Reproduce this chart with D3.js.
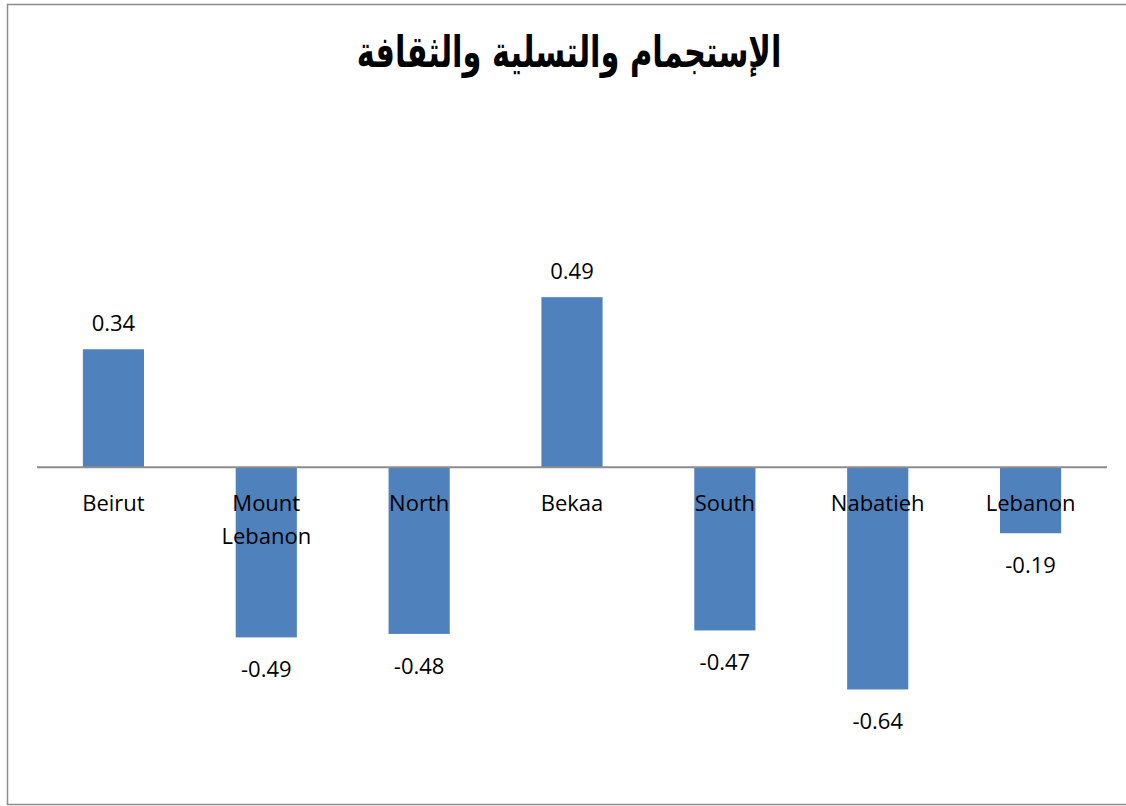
<!DOCTYPE html>
<html>
<head>
<meta charset="utf-8">
<script src="https://cdn.jsdelivr.net/npm/d3@7"></script>
<style>
body { margin: 0; background: #fff; }
text { font-family: "Open Sans", "Noto Sans", sans-serif; fill: #000; }
</style>
</head>
<body>
<div id="chart"></div>
<script>
var svgWidth = 1126;
var svgHeight = 806;

// chart data
var regions = ["Beirut", "Mount Lebanon", "North", "Bekaa", "South", "Nabatieh", "Lebanon"];
var values = [0.34, -0.49, -0.48, 0.49, -0.47, -0.64, -0.19];
var chartTitle = "الإستجمام والتسلية والثقافة";

var margin = { top: 259, right: 19, bottom: 61, left: 37 };
var width = svgWidth - margin.left - margin.right;
var height = svgHeight - margin.top - margin.bottom;

var svg = d3.select("#chart")
    .append("svg")
    .attr("width", svgWidth)
    .attr("height", svgHeight);

// outer frame
svg.append("rect")
    .attr("x", 7.5)
    .attr("y", 4.5)
    .attr("width", 1130)
    .attr("height", 800)
    .attr("fill", "none")
    .attr("stroke", "#8c8c8c")
    .attr("stroke-width", 1.5);

// title: DejaVu is narrower-wide, so squeeze it a bit
svg.append("text")
    .attr("transform", "translate(569, 67) scale(0.78, 1.12)")
    .attr("text-anchor", "middle")
    .attr("direction", "rtl")
    .style("font-family", "'DejaVu Sans', sans-serif")
    .style("font-weight", "bold")
    .style("font-size", "39px")
    .text(chartTitle);

var chartGroup = svg.append("g")
    .attr("transform", `translate(${margin.left}, ${margin.top})`);

var data = regions.map((r, i) => ({ region: r, value: values[i] }));

var x = d3.scaleBand()
    .domain(regions)
    .range([0, width])
    .paddingInner(0.6)
    .paddingOuter(0.3);

var y = d3.scaleLinear()
    .domain([-0.8, 0.6])
    .range([height, 0]);

// bars
chartGroup.selectAll("rect.bar")
    .data(data)
    .enter()
    .append("rect")
    .attr("class", "bar")
    .attr("x", d => x(d.region))
    .attr("width", x.bandwidth())
    .attr("y", d => y(Math.max(0, d.value)))
    .attr("height", d => Math.abs(y(d.value) - y(0)))
    .attr("fill", "#4f81bd");

// zero line
chartGroup.append("line")
    .attr("x1", 0)
    .attr("x2", width)
    .attr("y1", y(0))
    .attr("y2", y(0))
    .attr("stroke", "#8c8c8c")
    .attr("stroke-width", 2);

// category labels, wrapped on spaces
var catLabels = chartGroup.selectAll("text.cat")
    .data(data)
    .enter()
    .append("text")
    .attr("class", "cat")
    .attr("text-anchor", "middle")
    .attr("dominant-baseline", "central")
    .style("font-size", "22px")
    .attr("x", d => x(d.region) + x.bandwidth() / 2)
    .attr("y", y(0) + 35);

catLabels.each(function (d) {
    var words = d.region.split(" ");
    var t = d3.select(this);
    words.forEach(function (w, i) {
        t.append("tspan")
            .attr("x", x(d.region) + x.bandwidth() / 2)
            .attr("dy", i === 0 ? 0 : 33)
            .text(w);
    });
});

// value labels (plain hyphen for negatives, like the original)
chartGroup.selectAll("text.val")
    .data(data)
    .enter()
    .append("text")
    .attr("class", "val")
    .attr("text-anchor", "middle")
    .attr("dominant-baseline", "central")
    .style("font-size", "22px")
    .attr("x", d => x(d.region) + x.bandwidth() / 2)
    .attr("y", d => d.value >= 0 ? y(d.value) - 27 : y(d.value) + 31)
    .text(d => d.value.toFixed(2));
</script>
</body>
</html>
